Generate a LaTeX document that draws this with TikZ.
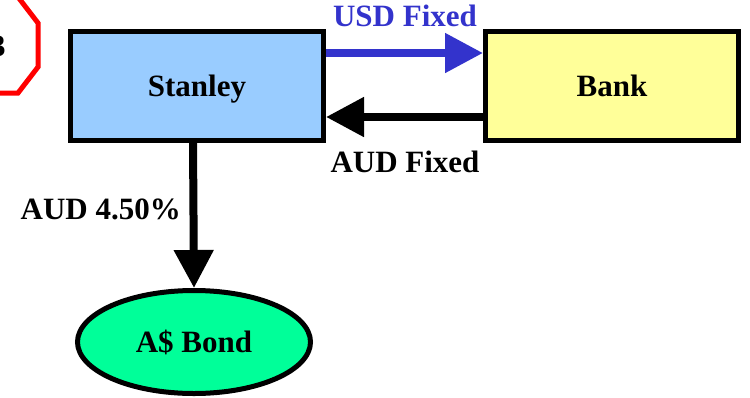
\documentclass[tikz,border=0pt]{standalone}
\usepackage{fontspec}
\setmainfont{Liberation Serif}
\usetikzlibrary{arrows.meta,shapes.geometric}
\definecolor{partyblue}{HTML}{99CCFF}
\definecolor{bankyellow}{HTML}{FFFF99}
\definecolor{bondgreen}{HTML}{00FF99}
\definecolor{flowblue}{HTML}{3333CC}
\tikzset{
  lbl/.style={font=\fontsize{31}{36}\selectfont\bfseries, inner sep=0pt},
  capsbox/.style={text height=21pt, text depth=0pt},
  party/.style={draw=black, line width=5pt, rectangle, minimum width=253pt, minimum height=109pt, lbl, capsbox},
  flow/.style={line width=8pt, -{Triangle[length=38pt,width=38pt]}},
}
\begin{document}
\begin{tikzpicture}[x=1pt, y=-1pt]
  \useasboundingbox (0,0) rectangle (750,397);
  \fill[white] (0,0) rectangle (750,397);

  % step marker in the corner
  \draw[red, line width=5pt] (38,23) -- (38,67) -- (18,93) -- (-22,93) -- (-42,67) -- (-42,23) -- (-22,-3) -- (18,-3) -- cycle;
  \node[lbl] (stepno) at (-2,46) {3};

  % parties
  \node[party, fill=partyblue] (stanley) at (197,86) {Stanley};
  \node[party, fill=bankyellow] (bank) at (612,86) {Bank};
  \node[draw=black, line width=5pt, ellipse, fill=bondgreen, minimum width=233pt, minimum height=103pt, lbl, capsbox] (bond) at (194,342) {A\$ Bond};

  % swap legs
  \draw[flow, flowblue] ([yshift=33pt]stanley.east) -- ([yshift=33pt]bank.west);
  \draw[flow, black] ([yshift=-31pt]bank.west) -- ([yshift=-31pt]stanley.east);
  \node[lbl, text=flowblue] (usd) at (405,16) {USD Fixed};
  \node[lbl] (aud) at (405,162) {AUD Fixed};

  % coupon to bondholders
  \draw[flow, black] ([xshift=-4pt]stanley.south) -- (bond.north);
  \node[lbl, anchor=east] (coupon) at (181,209) {AUD 4.50\%};
\end{tikzpicture}
\end{document}
